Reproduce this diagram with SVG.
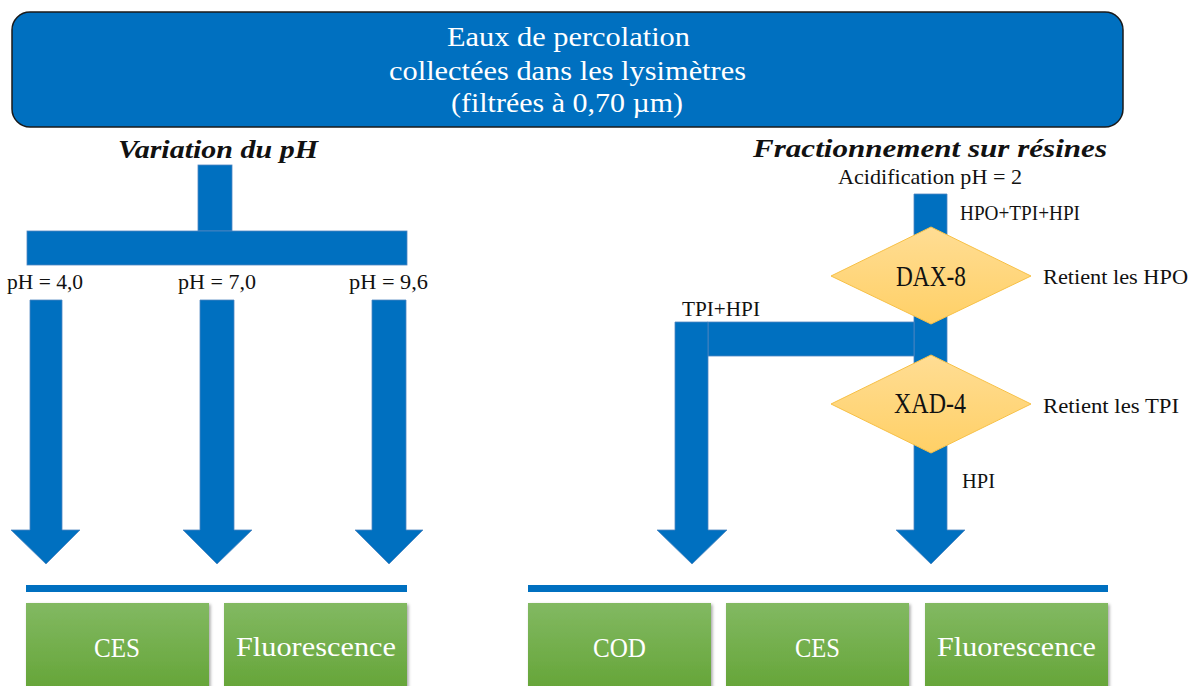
<svg xmlns="http://www.w3.org/2000/svg" width="1192" height="686" viewBox="0 0 1192 686">
  <style>
    .t { font-family: "Liberation Serif", "DejaVu Serif", serif; }
    .w { fill: #ffffff; }
    .k { fill: #111111; }
    .h { font-weight: bold; font-style: italic; font-size: 26px; }
    .lbl { font-size: 21px; }
    .blue { fill: #0070C0; stroke: #4f86c0; stroke-width: 0.8; }
    .line { fill: #0070C0; }
    .green { fill: url(#gg); filter: url(#sh); }
    .dia { fill: url(#yg); stroke: #F7C046; stroke-width: 1; }
  </style>
  <defs>
    <linearGradient id="gg" x1="0" y1="0" x2="0" y2="1">
      <stop offset="0" stop-color="#82B962"/>
      <stop offset="1" stop-color="#64A436"/>
    </linearGradient>
    <linearGradient id="yg" x1="0" y1="0" x2="0" y2="1">
      <stop offset="0" stop-color="#FFDD94"/>
      <stop offset="1" stop-color="#FFD066"/>
    </linearGradient>
    <filter id="sh" x="-5%" y="-5%" width="112%" height="115%">
      <feDropShadow dx="1.5" dy="1.5" stdDeviation="1.5" flood-color="#000000" flood-opacity="0.35"/>
    </filter>
  </defs>

  <rect width="1192" height="686" fill="#ffffff"/>

  <g id="source">
    <rect x="12" y="12" width="1111" height="115" rx="18" ry="18" fill="#0070C0" stroke="#1a1a1a" stroke-width="1.5"/>
    <text class="t w" x="447" y="46" font-size="28" textLength="243" lengthAdjust="spacingAndGlyphs">Eaux de percolation</text>
    <text class="t w" x="389" y="80" font-size="28" textLength="357" lengthAdjust="spacingAndGlyphs">collectées dans les lysimètres</text>
    <text class="t w" x="451" y="112" font-size="28" textLength="232" lengthAdjust="spacingAndGlyphs">(filtrées à 0,70 µm)</text>
  </g>

  <g id="title-ph">
    <text class="t k h" x="118" y="158" textLength="200" lengthAdjust="spacingAndGlyphs">Variation du pH</text>
  </g>
  <g id="title-resines">
    <text class="t k h" x="753" y="157" textLength="354" lengthAdjust="spacingAndGlyphs">Fractionnement sur résines</text>
  </g>

  <g id="connectors">
    <rect class="blue" x="198" y="165" width="34" height="66"/>
    <rect class="blue" x="27" y="231" width="380" height="34"/>
    <polygon class="blue" points="30,300 62,300 62,530 80,530 46,564 11,530 30,530"/>
    <polygon class="blue" points="200,300 234,300 234,530 252,530 217,564 183,530 200,530"/>
    <polygon class="blue" points="372,300 406,300 406,530 423,530 389,564 355,530 372,530"/>
    <polygon class="blue" points="914,194 947,194 947,530 965,530 931,564 896,530 914,530"/>
    <rect class="blue" x="708" y="322" width="206" height="34"/>
    <polygon class="blue" points="675,322 708,322 708,530 727,530 692,564 657,530 675,530"/>
    <rect class="line" x="26" y="585" width="381" height="7"/>
    <rect class="line" x="528" y="585" width="580" height="7"/>
  </g>

  <g id="labels">
    <text class="t k lbl" x="7" y="289" textLength="76" lengthAdjust="spacingAndGlyphs">pH = 4,0</text>
    <text class="t k lbl" x="178" y="289" textLength="78" lengthAdjust="spacingAndGlyphs">pH = 7,0</text>
    <text class="t k lbl" x="349" y="289" textLength="79" lengthAdjust="spacingAndGlyphs">pH = 9,6</text>
    <text class="t k lbl" x="838" y="184" textLength="184" lengthAdjust="spacingAndGlyphs">Acidification pH = 2</text>
    <text class="t k lbl" x="960" y="220" textLength="120" lengthAdjust="spacingAndGlyphs">HPO+TPI+HPI</text>
    <text class="t k lbl" x="1043" y="284" textLength="145" lengthAdjust="spacingAndGlyphs">Retient les HPO</text>
    <text class="t k lbl" x="682" y="316" textLength="78" lengthAdjust="spacingAndGlyphs">TPI+HPI</text>
    <text class="t k lbl" x="1043" y="413" textLength="136" lengthAdjust="spacingAndGlyphs">Retient les TPI</text>
    <text class="t k lbl" x="962" y="488" textLength="33" lengthAdjust="spacingAndGlyphs">HPI</text>
  </g>

  <g id="dax8">
    <polygon class="dia" points="931,227 1031,276 931,324 831,276"/>
    <text class="t k" x="896" y="286" font-size="29" textLength="70" lengthAdjust="spacingAndGlyphs">DAX-8</text>
  </g>
  <g id="xad4">
    <polygon class="dia" points="931,355 1031,404 931,453 831,404"/>
    <text class="t k" x="894" y="413" font-size="29" textLength="72" lengthAdjust="spacingAndGlyphs">XAD-4</text>
  </g>

  <g id="ces-left">
    <rect class="green" x="26" y="603" width="183" height="90"/>
    <text class="t w" x="94" y="657" font-size="28" textLength="46" lengthAdjust="spacingAndGlyphs">CES</text>
  </g>
  <g id="fluo-left">
    <rect class="green" x="224" y="603" width="183" height="90"/>
    <text class="t w" x="236" y="656" font-size="28" textLength="160" lengthAdjust="spacingAndGlyphs">Fluorescence</text>
  </g>
  <g id="cod-right">
    <rect class="green" x="528" y="603" width="183" height="90"/>
    <text class="t w" x="593" y="657" font-size="28" textLength="53" lengthAdjust="spacingAndGlyphs">COD</text>
  </g>
  <g id="ces-right">
    <rect class="green" x="726" y="603" width="183" height="90"/>
    <text class="t w" x="795" y="657" font-size="28" textLength="45" lengthAdjust="spacingAndGlyphs">CES</text>
  </g>
  <g id="fluo-right">
    <rect class="green" x="925" y="603" width="183" height="90"/>
    <text class="t w" x="937" y="656" font-size="28" textLength="159" lengthAdjust="spacingAndGlyphs">Fluorescence</text>
  </g>
</svg>
